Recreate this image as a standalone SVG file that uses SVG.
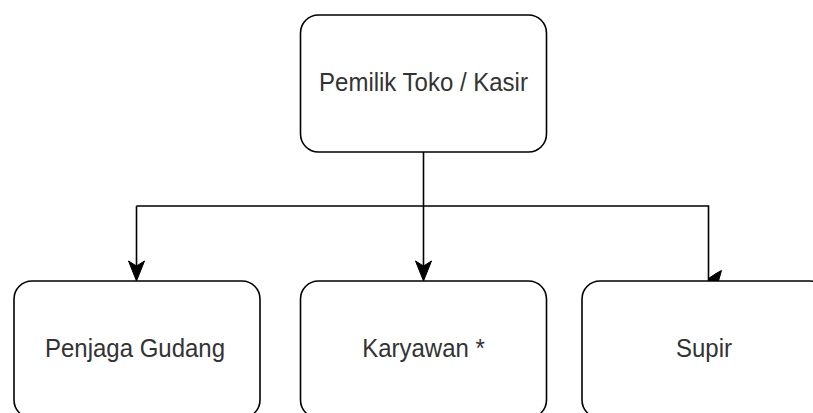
<svg xmlns="http://www.w3.org/2000/svg" width="813" height="413" viewBox="0 0 813 413">
  <style>
    .box { fill: #ffffff; stroke: #000000; stroke-width: 1.6; }
    .lbl { font-family: "Liberation Sans", Arial, sans-serif; font-size: 24px; fill: #333333; text-anchor: middle; }
    .edge { fill: none; stroke: #000000; stroke-width: 1.6; }
    .head { fill: #000000; stroke: #000000; stroke-width: 1; }
  </style>
  <rect width="813" height="413" fill="#ffffff"/>

  <!-- connectors from the owner to each staff role -->
  <g id="connectors">
    <path class="edge" d="M423.5 152 V276"/>
    <path class="edge" d="M136.5 206 H708.5 V281"/>
    <path class="edge" d="M136.5 206 V276"/>
    <polygon class="head" points="136.5,281 128.5,261 136.5,266 144.5,261"/>
    <polygon class="head" points="423.5,281 415.5,261 423.5,266 431.5,261"/>
    <polygon class="head" points="708.5,281 708.5,278.5 716,273.5 721.5,270.5 718.5,281"/>
  </g>

  <g id="node-pemilik">
    <rect class="box" x="300.5" y="15" width="246" height="137" rx="18" ry="18"/>
    <text class="lbl" transform="translate(423.5 91) scale(1 1.08)">Pemilik Toko / Kasir</text>
  </g>

  <g id="node-penjaga">
    <rect class="box" x="14" y="281" width="246" height="137" rx="18" ry="18"/>
    <text class="lbl" transform="translate(135 357) scale(1 1.08)">Penjaga Gudang</text>
  </g>

  <g id="node-karyawan">
    <rect class="box" x="300.5" y="281" width="246" height="137" rx="18" ry="18"/>
    <text class="lbl" transform="translate(423.5 357) scale(1 1.08)">Karyawan *</text>
  </g>

  <g id="node-supir">
    <rect class="box" x="582" y="281" width="246" height="137" rx="18" ry="18"/>
    <text class="lbl" transform="translate(704 357) scale(1 1.08)">Supir</text>
  </g>
</svg>
